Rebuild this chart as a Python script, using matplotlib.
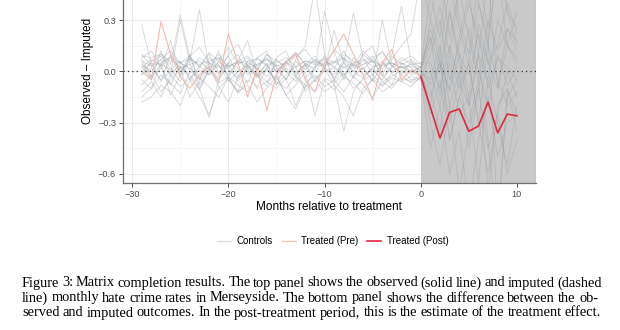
import numpy as np
import matplotlib.pyplot as plt
from matplotlib.lines import Line2D

# months relative to treatment
months = np.arange(-29, 11)

# observed - imputed, treated unit (pre: -29..0, post: 0..10)
treated_pre = [0.00, -0.05, 0.29, 0.10, -0.03, -0.10, -0.02, 0.03, -0.06, 0.22,
               0.05, -0.15, 0.02, -0.23, -0.02, 0.05, 0.10, -0.05, -0.12, 0.05,
               0.12, 0.22, 0.10, -0.02, -0.17, 0.05, 0.13, -0.05, 0.01, -0.03]
treated_post = [-0.03, -0.21, -0.39, -0.24, -0.22, -0.35, -0.32, -0.18, -0.36, -0.25, -0.26]

# observed - imputed, control units (-29..10)
controls = [
    [0.27, 0.04, 0.09, 0.02, -0.06, 0.08, 0.03, -0.02, 0.06, 0.01, -0.04, 0.05, 0.02, -0.03, 0.04,
     0.00, -0.06, 0.03, 0.07, 0.01, -0.02, 0.05, 0.00, -0.04, 0.02, 0.06, -0.01, 0.03, 0.00, 0.02,
     0.15, 0.38, 0.10, 0.47, 0.20, -0.05, 0.30, 0.12, 0.25, 0.18],
    [0.09, 0.08, 0.10, 0.06, 0.05, 0.07, 0.04, 0.06, 0.08, 0.03, 0.05, 0.06, 0.07, 0.04, 0.05,
     0.08, 0.03, 0.06, 0.05, 0.04, 0.06, 0.02, 0.05, 0.07, 0.03, 0.04, 0.05, 0.02, 0.03, 0.01,
     -0.08, 0.05, -0.12, 0.10, -0.02, 0.22, -0.10, 0.08, 0.02, -0.05],
    [0.06, 0.03, 0.05, 0.08, 0.02, 0.04, 0.06, 0.01, 0.05, 0.03, 0.06, 0.02, 0.04, 0.07, 0.03,
     0.05, 0.02, 0.06, 0.04, 0.03, 0.05, 0.08, 0.02, 0.04, 0.06, 0.03, 0.05, 0.02, 0.04, 0.00,
     0.20, -0.15, 0.35, 0.05, -0.20, 0.10, 0.55, -0.10, 0.15, 0.05],
    [-0.15, -0.10, 0.05, -0.14, -0.02, 0.10, -0.08, 0.00, 0.12, -0.05, -0.12, 0.04, -0.02, -0.09, 0.08,
     0.12, -0.03, -0.10, 0.02, 0.09, -0.06, 0.03, -0.04, 0.10, 0.15, -0.02, -0.08, 0.05, 0.02, -0.02,
     -0.30, -0.55, -0.20, -0.70, -0.35, -0.10, -0.45, -0.25, -0.60, -0.40],
    [-0.18, -0.15, -0.08, -0.12, -0.20, -0.05, -0.15, -0.25, -0.10, -0.04, -0.12, -0.08, -0.18, -0.10, -0.03,
     -0.14, -0.22, -0.09, -0.05, -0.12, -0.08, -0.15, -0.26, -0.10, -0.05, -0.12, -0.08, -0.04, -0.06, -0.02,
     0.30, 0.10, 0.50, 0.25, 0.05, 0.40, 0.20, 0.60, 0.15, 0.35],
    [0.03, -0.05, 0.12, -0.02, 0.30, 0.05, -0.10, 0.02, 0.08, -0.03, 0.06, 0.18, -0.02, 0.04, -0.08,
     0.05, 0.10, -0.04, 0.02, 0.35, 0.12, -0.05, 0.08, 0.02, -0.06, 0.05, 0.00, 0.03, -0.02, 0.00,
     -0.20, 0.10, -0.40, -0.15, 0.05, -0.30, -0.60, -0.25, 0.00, -0.15],
    [-0.02, 0.06, 0.10, 0.04, 0.33, 0.08, -0.04, 0.05, 0.02, 0.09, -0.03, 0.06, 0.01, 0.10, 0.03,
     -0.05, 0.07, 0.15, 0.50, 0.10, -0.05, 0.08, 0.03, 0.12, 0.06, -0.02, 0.09, 0.04, 0.07, 0.02,
     0.45, 0.20, 0.70, 0.30, 0.10, 0.55, 0.25, 0.80, 0.35, 0.15],
    [0.05, -0.04, 0.02, -0.08, 0.03, -0.02, -0.10, -0.27, -0.05, 0.04, -0.06, 0.02, -0.03, 0.05, -0.08,
     -0.02, 0.03, -0.12, -0.05, 0.02, -0.08, -0.35, -0.12, -0.04, 0.02, -0.06, -0.03, 0.01, -0.05, -0.04,
     -0.45, -0.20, -0.60, -0.35, -0.80, -0.40, -0.15, -0.50, -0.30, -0.25],
    [0.08, 0.12, 0.02, 0.18, -0.03, 0.09, 0.14, 0.05, -0.02, 0.10, 0.16, 0.03, 0.08, 0.12, -0.01,
     0.06, 0.11, 0.04, 0.09, 0.02, 0.13, 0.07, 0.00, 0.10, 0.05, 0.12, 0.03, 0.08, 0.04, 0.05,
     0.05, -0.10, 0.15, -0.05, 0.25, 0.00, -0.20, 0.10, -0.08, 0.02],
    [-0.08, -0.02, -0.12, -0.05, 0.02, -0.15, -0.06, 0.03, -0.09, -0.18, -0.04, 0.01, -0.10, -0.06, -0.02,
     -0.14, -0.08, 0.00, -0.26, -0.05, -0.11, -0.03, -0.07, -0.13, -0.04, -0.09, -0.01, -0.06, -0.03, -0.05,
     -0.10, -0.35, 0.05, -0.25, -0.15, -0.65, -0.05, -0.30, -0.55, -0.20],
    [0.00, 0.05, -0.06, 0.10, 0.00, 0.06, 0.36, 0.02, -0.04, 0.05, 0.10, -0.02, 0.04, 0.08, 0.02,
     -0.05, 0.06, 0.01, 0.07, 0.03, -0.04, 0.05, 0.34, 0.08, -0.02, 0.04, 0.10, 0.38, 0.05, 0.02,
     0.25, 0.05, -0.10, 0.20, 0.45, 0.10, -0.05, 0.30, 0.15, 0.08],
    [0.04, 0.00, 0.07, -0.03, 0.05, 0.02, -0.05, 0.08, 0.03, -0.02, 0.06, 0.04, -0.04, 0.02, 0.07,
     0.01, -0.03, 0.05, 0.00, 0.06, 0.03, -0.02, 0.04, 0.01, 0.07, -0.03, 0.02, 0.05, -0.01, 0.03,
     -0.25, -0.05, -0.40, -0.15, -0.30, -0.05, -0.70, -0.20, -0.10, -0.35],
    [-0.05, -0.10, -0.02, -0.07, -0.13, 0.00, -0.04, -0.09, -0.15, -0.03, -0.08, -0.12, -0.01, -0.06, -0.10,
     -0.04, -0.20, -0.07, -0.02, -0.09, -0.05, -0.12, -0.03, -0.08, -0.15, -0.06, -0.10, -0.02, -0.07, -0.04,
     0.10, 0.30, -0.05, 0.15, 0.40, 0.20, 0.05, -0.10, 0.25, 0.12],
    [0.02, 0.07, 0.03, 0.09, 0.05, 0.01, 0.08, 0.04, 0.10, 0.02, 0.06, 0.09, 0.03, 0.07, 0.00,
     0.05, 0.11, 0.04, 0.02, 0.08, 0.05, 0.12, 0.03, 0.06, 0.09, 0.01, 0.07, 0.15, 0.22, 0.55,
     0.30, 0.60, 0.20, 0.50, 0.85, 0.40, 0.15, 0.65, 0.35, 0.25],
    [0.07, -0.03, 0.04, 0.01, 0.06, -0.05, 0.03, 0.10, -0.01, 0.05, 0.02, -0.07, 0.08, 0.03, 0.00,
     0.06, -0.02, 0.04, -0.06, 0.01, 0.24, 0.05, -0.03, 0.02, -0.05, 0.30, 0.04, -0.02, 0.06, -0.01,
     -0.05, 0.15, -0.20, 0.00, -0.45, -0.10, 0.20, -0.85, -0.15, -0.05],
    [-0.12, -0.06, -0.15, -0.02, -0.09, -0.04, -0.11, 0.01, -0.07, -0.03, -0.13, -0.05, -0.09, 0.02, -0.06,
     -0.10, -0.03, -0.08, -0.12, -0.04, -0.07, -0.01, -0.10, -0.05, -0.02, -0.08, -0.04, -0.06, -0.09, -0.03,
     0.00, -0.20, 0.10, -0.10, 0.05, -0.30, 0.15, -0.05, -0.20, -0.12],
    [0.10, 0.03, 0.07, 0.12, 0.05, 0.09, 0.02, 0.11, 0.06, 0.14, 0.04, 0.08, 0.01, 0.10, 0.06,
     0.03, 0.09, 0.13, 0.05, 0.07, 0.02, 0.10, 0.06, 0.04, 0.08, 0.11, 0.03, 0.06, 0.09, 0.04,
     0.20, 0.00, 0.35, 0.10, -0.15, 0.28, 0.05, 0.15, 0.40, 0.22],
    [-0.02, 0.02, -0.05, 0.00, 0.03, -0.04, 0.01, -0.02, 0.04, -0.06, 0.00, 0.03, -0.03, 0.01, -0.05,
     0.02, -0.01, 0.04, -0.04, 0.00, 0.02, -0.03, 0.05, -0.02, 0.01, -0.05, 0.03, -0.01, 0.00, -0.02,
     -0.15, 0.05, -0.30, -0.05, -0.20, 0.10, -0.40, -0.95, -0.10, -0.25],
]

caption = [
    "Figure 3: Matrix completion results.  The top panel shows the observed (solid line) and imputed (dashed",
    "line) monthly hate crime rates in Merseyside.  The bottom panel shows the difference between the ob-",
    "served and imputed outcomes.  In the post-treatment period, this is the estimate of the treatment effect.",
]

col_ctrl = "#9da3a8"
col_pre = "#f1bbb0"
col_post = "#e3263b"
sans = ["Liberation Sans", "DejaVu Sans"]

W, H = 620, 330
fig = plt.figure(figsize=(W / 100, H / 100), dpi=100)
ax = fig.add_axes([123 / W, 1 - 182.7 / H, (535.7 - 123) / W, 182.7 / H])

# post-treatment shading
ax.axvspan(0, 20, color="#c9c9c9", lw=0, zorder=1)
ax.axvline(11.95, color="#8c8c8c", lw=0.8, zorder=1.1)

for c in controls:
    ax.plot(months, c, color=col_ctrl, lw=0.6, alpha=0.45, zorder=2)
ax.plot(months[:30], treated_pre, color=col_pre, lw=0.8, zorder=3)
ax.plot(months[29:], treated_post, color=col_post, lw=1.2, zorder=4)
ax.axhline(0, color="#333333", lw=0.9, ls=(0, (1, 2.5)), zorder=5)

ax.set_xlim(-30.95, 11.95)
ax.set_ylim(-0.651, 0.417)
ax.set_xticks([-30, -20, -10, 0, 10])
ax.set_xticks([-25, -15, -5, 5], minor=True)
ax.set_yticks([-0.6, -0.3, 0.0, 0.3])
ax.set_yticks([-0.45, -0.15, 0.15], minor=True)
ax.set_yticklabels(["\u22120.6", "\u22120.3", "0.0", "0.3"])
ax.set_xticklabels(["\u221230", "\u221220", "\u221210", "0", "10"])
ax.grid(which="major", color="#ebebeb", lw=0.7)
ax.grid(which="minor", color="#f3f3f3", lw=0.5)
ax.set_axisbelow(True)
for s in ["top", "right"]:
    ax.spines[s].set_visible(False)
for s in ["left", "bottom"]:
    ax.spines[s].set_color("#6e6e6e")
    ax.spines[s].set_linewidth(0.9)
ax.tick_params(which="major", length=3, width=0.7, color="#4d4d4d",
               labelsize=6.6, labelcolor="#4d4d4d", pad=2)
ax.tick_params(which="minor", length=0)
for t in ax.get_xticklabels() + ax.get_yticklabels():
    t.set_family(sans)

fig.text(88 / W, 1 - 71 / H, "Observed \u2013 Imputed", rotation=90, ha="center",
         va="center", fontsize=8.5, family=sans)
fig.text(329 / W, 1 - 207 / H, "Months relative to treatment", ha="center",
         va="center", fontsize=8.5, family=sans)

handles = [Line2D([], [], color="#dcdcdc", lw=0.9),
           Line2D([], [], color="#f3c0b5", lw=0.9),
           Line2D([], [], color=col_post, lw=1.2)]
fig.legend(handles, ["Controls", "Treated (Pre)", "Treated (Post)"], ncol=3,
           loc="center", bbox_to_anchor=(333 / W, 1 - 241 / H), frameon=False,
           handlelength=1.4, handletextpad=0.6, columnspacing=0.9,
           prop={"family": sans, "size": 7})


def justify(line, x0, x1, ybase, **kw):
    # spread words so the line fills x0..x1 (pixels)
    r = fig.canvas.get_renderer()
    words = line.split()
    widths = []
    for w in words:
        t = fig.text(0, 0, w, **kw)
        widths.append(t.get_window_extent(r).width)
        t.remove()
    gap = (x1 - x0 - sum(widths)) / (len(words) - 1)
    x = x0
    for w, wd in zip(words, widths):
        fig.text(x / W, 1 - ybase / H, w, va="baseline", **kw)
        x += wd + gap


cap_kw = dict(fontsize=10.35, family=["Liberation Serif", "DejaVu Serif"], color="black")
justify(caption[0], 22, 602, 286.5, **cap_kw)
justify(caption[1], 22, 598, 301.5, **cap_kw)
justify(caption[2], 22, 601, 316.5, **cap_kw)

fig.savefig("out.png", dpi=100)
